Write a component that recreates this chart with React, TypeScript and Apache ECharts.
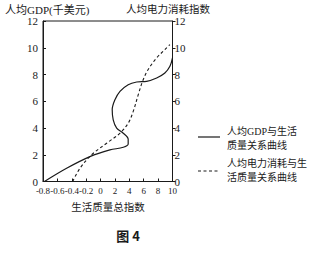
import React, { useEffect, useRef } from "react";
import * as echarts from "echarts";

const xTickLabels = ["-0.8", "-0.6", "-0.4", "-0.2", "0", "2", "4", "6", "8", "10"];
// x is the position index along the (non-linear) bottom scale: 0 -> -0.8 ... 9 -> 10
const gdpCurve: [number, number][] = [
  [0.1, 0], [1.64, 0.99], [3.26, 1.86], [4.65, 2.36], [5.58, 2.56], [5.92, 2.81],
  [5.92, 3.16], [5.58, 3.61], [5.12, 3.99], [4.88, 4.61], [4.81, 5.36], [5.0, 6.11],
  [5.35, 6.74], [5.92, 7.24], [6.51, 7.44], [7.2, 7.49], [7.9, 7.74], [8.47, 8.11],
  [8.82, 8.61], [9.0, 9.24],
];
const powerCurve: [number, number][] = [
  [2.06, 0], [2.57, 0.99], [3.38, 2.0], [4.42, 2.86], [5.35, 3.61], [5.92, 4.36],
  [6.27, 5.24], [6.62, 6.49], [6.92, 7.49], [7.3, 8.36], [7.9, 9.24], [8.47, 9.86],
  [8.82, 10.24],
];
const leftAxisName = "人均GDP(千美元)";
const rightAxisName = "人均电力消耗指数";
const xAxisName = "生活质量总指数";
const legendGdp = ["人均GDP与生活", "质量关系曲线"];
const legendPower = ["人均电力消耗与生", "活质量关系曲线"];
const figTitle = "图 4";

const FONT = "'Liberation Serif', 'DejaVu Serif', 'Noto Sans CJK SC', serif";
const INK = "#1a1a1a";

export default function App() {
  const ref = useRef<HTMLDivElement>(null);
  useEffect(() => {
    if (!ref.current) return;
    const chart = echarts.init(ref.current, undefined, { renderer: "svg" });
    const txt = (x: number, y: number, text: string, size = 11, extra: any = {}) => ({
      type: "text",
      x,
      y,
      style: { text, fill: INK, fontSize: size, fontFamily: FONT, textVerticalAlign: "middle", ...extra },
    });
    chart.setOption({
      animation: false,
      backgroundColor: "#ffffff",
      grid: { left: 43, right: 146.5, top: 21, bottom: 72.5, show: true, borderColor: INK, borderWidth: 1 },
      xAxis: {
        type: "value",
        min: 0,
        max: 9,
        interval: 1,
        axisLine: { lineStyle: { color: INK } },
        axisTick: { inside: true, length: 3, lineStyle: { color: INK } },
        splitLine: { show: false },
        axisLabel: {
          color: INK,
          fontSize: 9,
          fontFamily: FONT,
          margin: 5,
          showMinLabel: true,
          showMaxLabel: true,
          hideOverlap: false,
          formatter: (v: number) => xTickLabels[Math.round(v)] ?? "",
        },
      },
      yAxis: [
        {
          type: "value",
          min: 0,
          max: 12,
          interval: 2,
          axisLine: { show: true, lineStyle: { color: INK } },
          axisTick: { show: true, inside: true, length: 3, lineStyle: { color: INK } },
          splitLine: { show: false },
          axisLabel: { color: INK, fontSize: 11, fontFamily: FONT, margin: 5 },
        },
        {
          type: "value",
          min: 0,
          max: 12,
          interval: 2,
          position: "right",
          axisLine: { show: true, lineStyle: { color: INK } },
          axisTick: { show: true, length: 3, lineStyle: { color: INK } },
          splitLine: { show: false },
          axisLabel: { color: INK, fontSize: 11, fontFamily: FONT, margin: 2, padding: [0, 0, 5, 0] },
        },
      ],
      series: [
        {
          type: "line",
          data: gdpCurve,
          smooth: 0.35,
          showSymbol: false,
          symbol: "none",
          lineStyle: { color: INK, width: 1.2 },
          yAxisIndex: 0,
        },
        {
          type: "line",
          data: powerCurve,
          smooth: 0.35,
          showSymbol: false,
          symbol: "none",
          lineStyle: { color: INK, width: 1.1, type: [3, 2.5] },
          yAxisIndex: 1,
        },
      ],
      graphic: [
        txt(5, 10, leftAxisName, 11),
        txt(126, 9, rightAxisName, 10.5),
        txt(108, 207, xAxisName, 10.5, { textAlign: "center" }),
        txt(128, 235, figTitle, 13, { textAlign: "center", fontWeight: "bold", fontFamily: "'Noto Sans CJK SC', sans-serif" }),
        { type: "line", shape: { x1: 198, y1: 137, x2: 220, y2: 137 }, style: { stroke: INK, lineWidth: 1.2 } },
        txt(227, 131, legendGdp[0], 10),
        txt(227, 145, legendGdp[1], 10),
        { type: "line", shape: { x1: 198, y1: 171, x2: 220, y2: 171 }, style: { stroke: INK, lineWidth: 1.1, lineDash: [3, 2.5] } },
        txt(227, 163, legendPower[0], 10),
        txt(227, 177, legendPower[1], 10),
      ],
    });
    return () => chart.dispose();
  }, []);
  return <div ref={ref} style={{ position: "fixed", left: 0, top: 0, width: 319, height: 254 }} />;
}
